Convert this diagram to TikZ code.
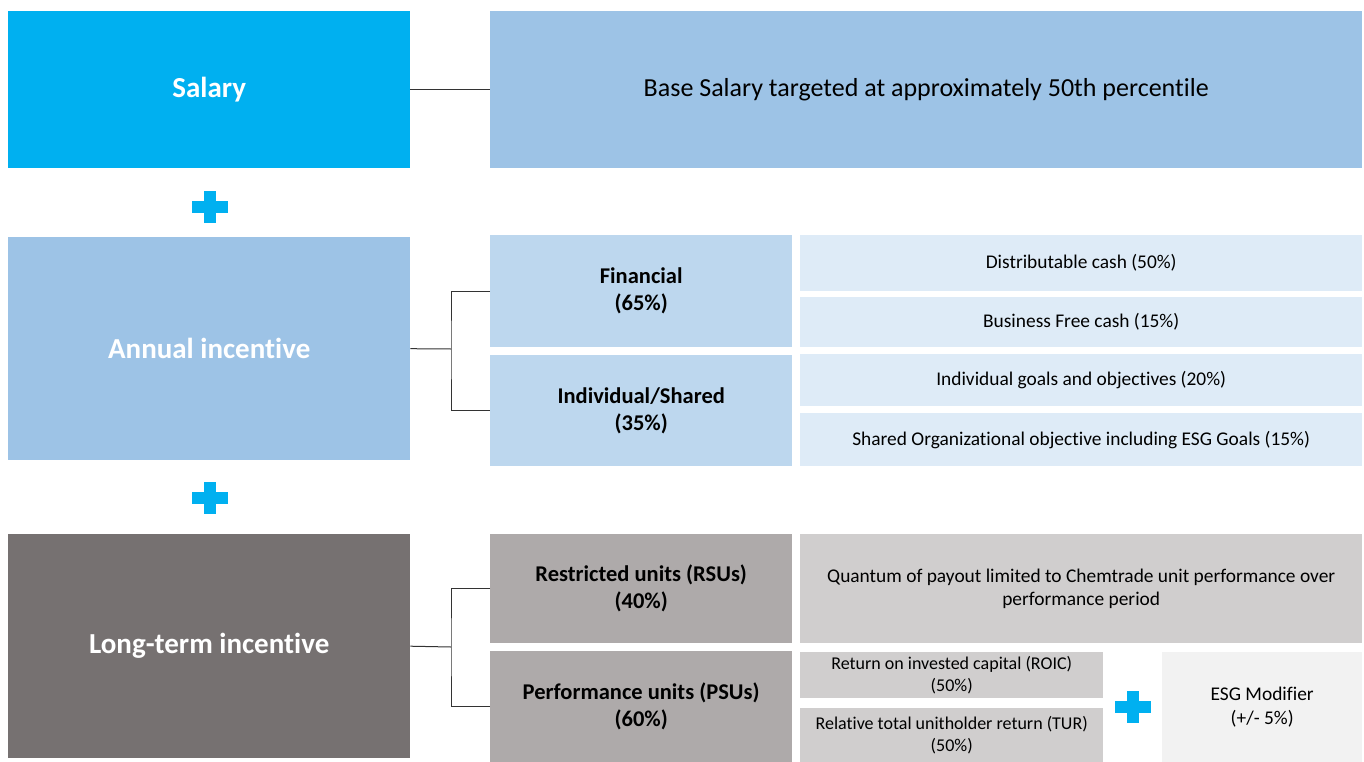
\documentclass[tikz,border=0pt]{standalone}
\usepackage{fontspec}
\setmainfont{Carlito}[RawFeature={-liga}]
\definecolor{salblue}{HTML}{00B0F0}
\definecolor{midblue}{HTML}{9DC3E6}
\definecolor{lightblue}{HTML}{BDD7EE}
\definecolor{paleblue}{HTML}{DEEBF7}
\definecolor{darkgrey}{HTML}{767171}
\definecolor{midgrey}{HTML}{AEAAAA}
\definecolor{lightgrey}{HTML}{D0CECE}
\definecolor{palegrey}{HTML}{F2F2F2}
\tikzset{
  box/.style={anchor=north west, inner sep=0pt, align=center},
  head/.style={box, text=white, font=\fontsize{29}{35}\selectfont\bfseries},
  sub/.style={box, font=\fontsize{22.5}{27}\selectfont\bfseries},
  item/.style={box, font=\fontsize{19.4}{23.5}\selectfont},
  small/.style={item, font=\fontsize{18}{22}\selectfont},
  link/.style={draw=black!80, line width=1pt}
}
% plus sign centred at (#1,#2)
\newcommand{\plusmark}[2]{%
  \fill[salblue] (#1-18,#2-6) rectangle (#1+18,#2+6);
  \fill[salblue] (#1-6,#2-16) rectangle (#1+6,#2+16);}
\begin{document}
\begin{tikzpicture}[x=1pt,y=-1pt]
\useasboundingbox (0,0) rectangle (1364,762);
\fill[white] (0,0) rectangle (1364,762);
% salary
\node[head, fill=salblue, minimum width=402pt, minimum height=157pt] (sal) at (8,11) {Salary};
\node[box, fill=midblue, minimum width=872pt, minimum height=157pt, font=\fontsize{26}{31}\selectfont] (base) at (490,11) {Base Salary targeted at approximately 50th percentile};
\draw[link] (sal.east) -- (base.west);
\plusmark{210}{207}
% annual incentive
\node[head, fill=midblue, minimum width=402pt, minimum height=223pt] (ann) at (8,237) {Annual incentive};
\node[sub, fill=lightblue, minimum width=302pt, minimum height=112pt] (fin) at (490,235) {Financial\\(65\%)};
\node[sub, fill=lightblue, minimum width=302pt, minimum height=111pt] (ind) at (490,355) {Individual/Shared\\(35\%)};
\node[item, fill=paleblue, minimum width=562pt, minimum height=56pt] (dist) at (800,235) {Distributable cash (50\%)};
\node[item, fill=paleblue, minimum width=562pt, minimum height=50pt] (free) at (800,297) {Business Free cash (15\%)};
\node[item, fill=paleblue, minimum width=562pt, minimum height=52pt] (goal) at (800,354) {Individual goals and objectives (20\%)};
\node[item, fill=paleblue, minimum width=562pt, minimum height=53pt] (org) at (800,413) {Shared Organizational objective including ESG Goals (15\%)};
\coordinate (aj) at (451,349);
\draw[link] (ann.east) -- (aj);
\draw[link] (fin.west) -| (aj) |- (ind.west);
\plusmark{210}{498}
% long-term incentive
\node[head, fill=darkgrey, minimum width=402pt, minimum height=224pt] (lti) at (8,534) {Long-term incentive};
\node[sub, fill=midgrey, minimum width=302pt, minimum height=109pt] (rsu) at (490,534) {Restricted units (RSUs)\\(40\%)};
\node[sub, fill=midgrey, minimum width=302pt, minimum height=111pt] (psu) at (490,651) {Performance units (PSUs)\\(60\%)};
\node[item, fill=lightgrey, minimum width=562pt, minimum height=109pt] (quant) at (800,534) {Quantum of payout limited to Chemtrade unit performance over\\performance period};
\node[small, fill=lightgrey, minimum width=303pt, minimum height=46pt] (roic) at (800,652) {Return on invested capital (ROIC)\\(50\%)};
\node[small, fill=lightgrey, minimum width=303pt, minimum height=54pt] (tur) at (800,708) {Relative total unitholder return (TUR)\\(50\%)};
\node[item, fill=palegrey, minimum width=200pt, minimum height=110pt] (esg) at (1162,652) {ESG Modifier\\(+/- 5\%)};
\coordinate (lj) at (451,647);
\draw[link] (lti.east) -- (lj);
\draw[link] (rsu.west) -| (lj) |- (psu.west);
\plusmark{1133}{707}
\end{tikzpicture}
\end{document}
